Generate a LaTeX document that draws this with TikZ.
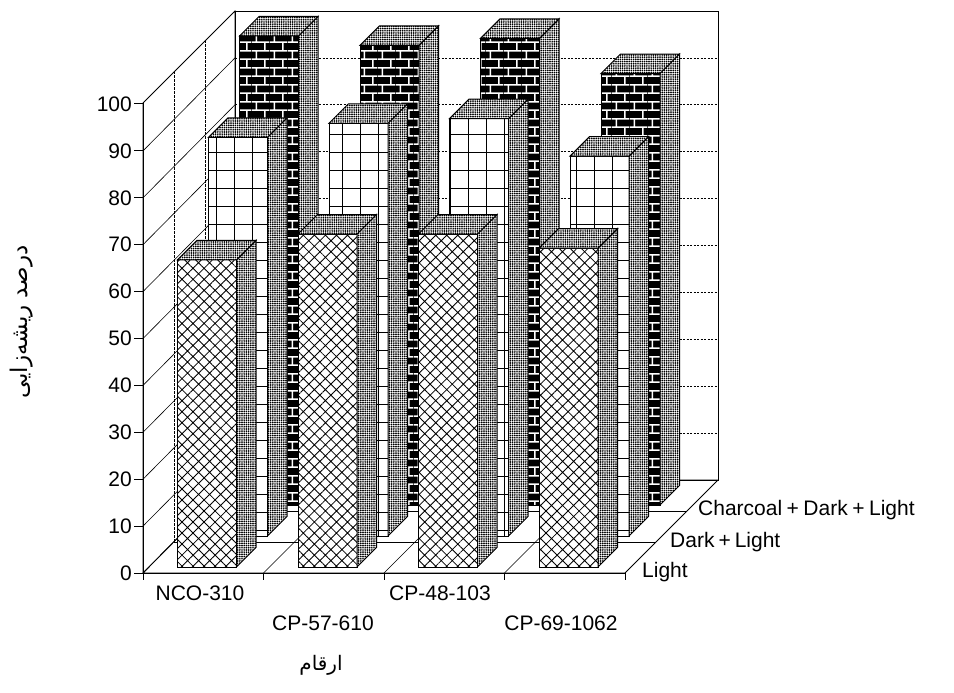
\documentclass[tikz,border=0pt]{standalone}
\usepackage{fontspec}
\setmainfont{Liberation Sans}
\newfontfamily\persianfont[Script=Arabic]{DejaVu Sans}
\TeXXeTstate=1
\usetikzlibrary{patterns,patterns.meta}

% brick texture for the charcoal bars
\pgfdeclarepatternformonly{charcoalbricks}{\pgfpointorigin}{\pgfqpoint{18pt}{17.4pt}}{\pgfqpoint{18pt}{17.4pt}}{%
  \pgfsetlinewidth{1.6pt}%
  \pgfpathmoveto{\pgfqpoint{0pt}{0.8pt}}\pgfpathlineto{\pgfqpoint{18pt}{0.8pt}}%
  \pgfpathmoveto{\pgfqpoint{0pt}{9.5pt}}\pgfpathlineto{\pgfqpoint{18pt}{9.5pt}}%
  \pgfpathmoveto{\pgfqpoint{4.5pt}{0.8pt}}\pgfpathlineto{\pgfqpoint{4.5pt}{9.5pt}}%
  \pgfpathmoveto{\pgfqpoint{13.5pt}{9.5pt}}\pgfpathlineto{\pgfqpoint{13.5pt}{17.4pt}}%
  \pgfusepath{stroke}%
}

% one bar: front x, base y, value, front face style
\newcommand{\cuboid}[4]{%
  \pgfmathsetmacro{\hh}{4.69*#3}%
  \draw[#4] (#1,#2) rectangle (#1+59,#2-\hh);
  \draw[stipple] (#1+59,#2) -- (#1+78.5,#2-19.5) -- (#1+78.5,#2-19.5-\hh) -- (#1+59,#2-\hh) -- cycle;
  \draw[stipple] (#1,#2-\hh) -- (#1+19.5,#2-\hh-19.5) -- (#1+78.5,#2-\hh-19.5) -- (#1+59,#2-\hh) -- cycle;
}

\begin{document}
\begin{tikzpicture}[
    x=1pt, y=-1pt,
    wall/.style={line width=0.8pt},
    gridline/.style={line width=0.6pt},
    backgrid/.style={line width=0.7pt, dash pattern=on 2pt off 1.5pt},
    depthline/.style={line width=0.6pt, dash pattern=on 3pt off 1pt},
    axis/.style={line width=1pt},
    stipple/.style={draw, line width=1pt, preaction={fill=white},
      pattern={Dots[distance=2.2pt,radius=0.95pt]}},
    hatchface/.style={draw, line width=1pt, preaction={fill=white},
      pattern={Hatch[angle=45,distance=7.8pt,line width=0.85pt]}},
    gridface/.style={draw, line width=1pt, preaction={fill=white},
      pattern={Hatch[angle=0,distance=18pt,line width=1pt]}},
    brickface/.style={draw, line width=1pt, preaction={fill=black},
      pattern=charcoalbricks, pattern color=white},
    ticklabel/.style={font=\fontsize{21}{24}\selectfont, inner sep=0pt},
    persian/.style={font=\fontsize{20}{24}\persianfont, inner sep=0pt}
  ]
  \useasboundingbox (0,0) rectangle (954,693);

  % walls and floor
  \draw[wall] (143,573) -- (143,103) -- (235,11) -- (235,480) -- cycle;
  \draw[wall] (235,11) rectangle (718,480);
  \draw[wall] (143,573) -- (625,573) -- (718,480) -- (235,480) -- cycle;

  % value grid
  \foreach \t in {10,20,...,90} {
    \draw[gridline] (143,573-4.69*\t) -- (235,480-4.69*\t);
    \draw[backgrid] (235,480-4.69*\t) -- (718,480-4.69*\t);
  }
  \draw[depthline] (174,542) -- (174,72);
  \draw[depthline] (205,511) -- (205,41);

  % floor cells
  \draw[gridline] (174,542) -- (656,542);
  \draw[gridline] (205,511) -- (687,511);
  \foreach \g in {1,2,3}
    \draw[gridline] (143+120.5*\g,573) -- (236+120.5*\g,480);

  % Charcoal + Dark + Light
  \foreach \v [count=\g from 0] in {100,98,99.5,92}
    \cuboid{239.5+120.5*\g}{505}{\v}{brickface};
  % Dark + Light
  \foreach \v [count=\g from 0] in {85,88,89,81}
    \cuboid{208.5+120.5*\g}{536}{\v}{gridface};
  % Light
  \foreach \v [count=\g from 0] in {65.5,71,71,68}
    \cuboid{177.5+120.5*\g}{567}{\v}{hatchface};

  % axes
  \draw[axis] (143,573) -- (143,103);
  \draw[axis] (143,573) -- (625,573);
  \foreach \t in {0,10,...,100} {
    \draw[axis] (134,573-4.69*\t) -- (143,573-4.69*\t);
    \node[ticklabel, anchor=east] (ytick\t) at (132,573-4.69*\t) {\t};
  }
  \foreach \g in {0,...,4}
    \draw[axis] (143+120.5*\g,573) -- (143+120.5*\g,580);

  % cultivars
  \node[ticklabel] (nco) at (200,593) {NCO-310};
  \node[ticklabel] (cpa) at (323,623) {CP-57-610};
  \node[ticklabel] (cpb) at (440,593) {CP-48-103};
  \node[ticklabel] (cpc) at (561,623) {CP-69-1062};

  % series
  \node[ticklabel, anchor=west] (light) at (642,572) {Light};
  \node[ticklabel, anchor=west] (dark) at (670,542) {Dark\kern4pt+\kern4pt Light};
  \node[ticklabel, anchor=west] (charcoal) at (698,510) {Charcoal\kern4.5pt+\kern4.5pt Dark\kern4.5pt+\kern4.5pt Light};

  % axis titles
  \node[persian] (xtitle) at (321,665) {\beginR ارقام\endR};
  \node[persian, font=\fontsize{23}{26}\persianfont, rotate=90] (ytitle) at (22,322) {\beginR درصد ریشه^^^^200cزایی\endR};
\end{tikzpicture}
\end{document}
